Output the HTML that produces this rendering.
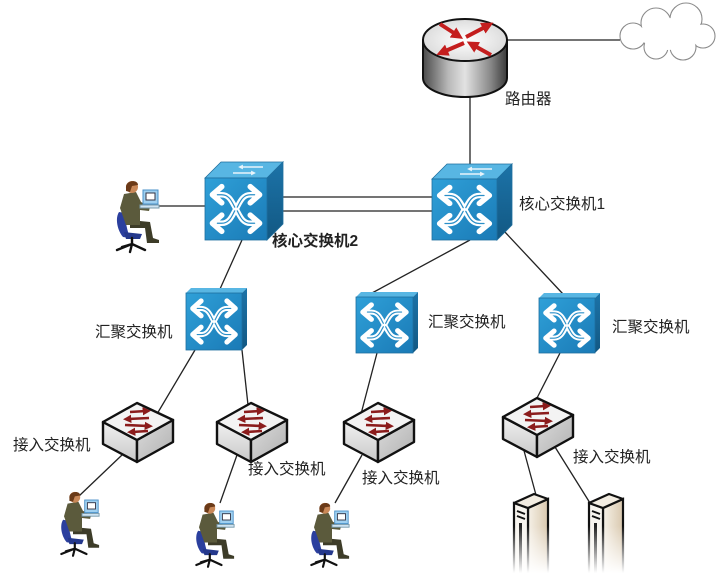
<!DOCTYPE html>
<html><head><meta charset="utf-8"><style>
html,body{margin:0;padding:0;background:#fff;}
svg{display:block;}
text{font-family:"Liberation Sans","Noto Sans CJK SC",sans-serif;font-size:15.5px;fill:#222;}
</style></head><body>
<svg width="720" height="573" viewBox="0 0 720 573" xmlns="http://www.w3.org/2000/svg">
<defs>
 <linearGradient id="fr" x1="0" y1="0" x2="1" y2="1">
  <stop offset="0" stop-color="#2fa0d8"/><stop offset="1" stop-color="#1a7ab6"/>
 </linearGradient>
 <linearGradient id="rs" x1="0" y1="0" x2="0" y2="1">
  <stop offset="0" stop-color="#1c73a8"/><stop offset="1" stop-color="#125883"/>
 </linearGradient>
 <linearGradient id="rb" x1="0" y1="0" x2="1" y2="0">
  <stop offset="0" stop-color="#4a4a4a"/><stop offset="0.3" stop-color="#b8b8b8"/>
  <stop offset="0.5" stop-color="#e2e2e2"/><stop offset="0.8" stop-color="#8a8a8a"/>
  <stop offset="1" stop-color="#3a3a3a"/>
 </linearGradient>
 <radialGradient id="rt" cx="0.5" cy="0.5" r="0.6">
  <stop offset="0" stop-color="#ffffff"/><stop offset="1" stop-color="#d6d6d6"/>
 </radialGradient>
 <linearGradient id="accL" x1="0" y1="0" x2="0" y2="1">
  <stop offset="0" stop-color="#f0f0f0"/><stop offset="1" stop-color="#c9c9c9"/>
 </linearGradient>
 <linearGradient id="accR" x1="0" y1="0" x2="1" y2="1">
  <stop offset="0" stop-color="#dcdcdc"/><stop offset="1" stop-color="#b0b0b0"/>
 </linearGradient>
 <linearGradient id="srvS" x1="0" y1="0" x2="1" y2="0">
  <stop offset="0" stop-color="#f6f1e8"/><stop offset="1" stop-color="#d9c8ae"/>
 </linearGradient>
 <linearGradient id="fade" x1="0" y1="0" x2="0" y2="1">
  <stop offset="0" stop-color="#fff" stop-opacity="0"/><stop offset="1" stop-color="#fff" stop-opacity="1"/>
 </linearGradient>
 <marker id="rh" viewBox="0 0 10 10" refX="4" refY="5" markerWidth="3" markerHeight="3" orient="auto">
  <path d="M0,0 L10,5 L0,10 z" fill="#c41e1e"/>
 </marker>
 <marker id="dh" viewBox="0 0 10 10" refX="4" refY="5" markerWidth="3.2" markerHeight="3.2" orient="auto">
  <path d="M0,0 L10,5 L0,10 z" fill="#8b1c1c"/>
 </marker>
 <marker id="wh" viewBox="0 0 10 10" refX="4" refY="5" markerWidth="3" markerHeight="3" orient="auto">
  <path d="M0,0 L10,5 L0,10 z" fill="#e8f4fb"/>
 </marker>
 <symbol id="xarr" viewBox="0 0 100 100" preserveAspectRatio="none">
  <g fill="none" stroke="#fff" stroke-width="9" stroke-linecap="round" stroke-linejoin="round">
   <path d="M14,27 H27 C40,27 44,40 50,50 C56,60 60,73 73,73 H86"/>
   <path d="M14,73 H27 C40,73 44,60 50,50 C56,40 60,27 73,27 H86"/>
   <path d="M27,14 L12,27 L27,40"/>
   <path d="M73,14 L88,27 L73,40"/>
   <path d="M27,60 L12,73 L27,86"/>
   <path d="M73,60 L88,73 L73,86"/>
  </g>
  <g fill="none" stroke="#2a8fc8" stroke-width="2" stroke-linecap="round">
   <path d="M20,27 H27 C40,27 44,40 48,47"/>
   <path d="M52,53 C56,60 60,73 73,73 H80"/>
   <path d="M20,73 H27 C40,73 44,60 48,53"/>
   <path d="M52,47 C56,40 60,27 73,27 H80"/>
  </g>
 </symbol>
 <g id="person">
  <path d="M9,32 C5,38 7,50 13,57 L20,58 C17,50 15,40 15,33 Z" fill="#2b3f9e"/>
  <path d="M14,52 L32,54 L30,59 L16,59 Z" fill="#24388c"/>
  <path d="M22,58 L22,64 M22,64 L7,70 M22,64 L35,70 M22,64 L20,72 M22,64 L12,67" stroke="#111" stroke-width="2.4" fill="none" stroke-linecap="round"/>
  <path d="M20,40 L40,42 L43,58 L49,60 L49,63 L37,63 L35,48 L20,48 Z" fill="#3d3c28"/>
  <path d="M14,14 L26,12 L31,22 L40,27 L39,31 L30,30 L30,45 L16,45 L10,28 Z" fill="#5b5a3c"/>
  <circle cx="22" cy="7" r="6" fill="#c98858"/>
  <path d="M16,8 C15,0 28,-1 28,5 L22,6 L20,12 L16,11Z" fill="#6b3a18"/>
  <rect x="33" y="10" width="15" height="14" fill="#9fd0f0" stroke="#4a90c8"/>
  <rect x="36" y="13" width="9" height="7" fill="#fff" stroke="#334"/>
  <rect x="30" y="25" width="19" height="3" fill="#cfe4f2" stroke="#79a"/>
 </g>
 <g id="acc">
  <polygon points="0,19 34,37 34,59 0,41" fill="url(#accL)" stroke="#111" stroke-width="2.4" stroke-linejoin="round"/>
  <polygon points="34,37 70,17 70,39 34,59" fill="url(#accR)" stroke="#111" stroke-width="2.4" stroke-linejoin="round"/>
  <polygon points="0,19 34,0 70,17 34,37" fill="#f3f3f3" stroke="#111" stroke-width="2.4" stroke-linejoin="round"/>
  <g stroke="#8b1c1c" stroke-width="2.6" fill="none">
   <path d="M27,9 L43,8" marker-end="url(#dh)"/>
   <path d="M46,15 L25,16" marker-end="url(#dh)"/>
   <path d="M22,22 L45,23" marker-end="url(#dh)"/>
   <path d="M45,28 L29,29" marker-end="url(#dh)"/>
  </g>
 </g>
 <g id="server">
  <polygon points="14,14 34,5 34,85 14,85" fill="url(#srvS)" stroke="#111" stroke-width="2.2"/>
  <polygon points="0,9 14,14 14,85 0,85" fill="#f7f4ee" stroke="#111" stroke-width="2.2"/>
  <polygon points="0,9 20,0 34,5 14,14" fill="#f3ede2" stroke="#111" stroke-width="2.2" stroke-linejoin="round"/>
  <path d="M3,17 L11,20 M3,22 L11,25" stroke="#111" stroke-width="2"/>
  <rect x="5" y="29" width="3" height="50" fill="#222"/>
 </g>
</defs>

<!-- connectors -->
<g stroke="#222" stroke-width="1.3" fill="none">
 <line x1="507" y1="40" x2="620" y2="40"/>
 <line x1="470" y1="96" x2="470" y2="165"/>
 <line x1="282" y1="197" x2="433" y2="197"/>
 <line x1="282" y1="211" x2="433" y2="211"/>
 <line x1="158" y1="206" x2="205" y2="206"/>
 <line x1="242" y1="240" x2="220" y2="289"/>
 <line x1="470" y1="240" x2="372" y2="293"/>
 <line x1="504" y1="231" x2="563" y2="294"/>
 <line x1="195" y1="350" x2="157" y2="414"/>
 <line x1="242" y1="350" x2="248" y2="405"/>
 <line x1="122" y1="455" x2="79" y2="496"/>
 <line x1="237" y1="455" x2="220" y2="503"/>
 <line x1="377" y1="353" x2="361" y2="414"/>
 <line x1="362" y1="455" x2="335" y2="503"/>
 <line x1="560" y1="353" x2="537" y2="398"/>
 <line x1="523" y1="447" x2="536" y2="495"/>
 <line x1="555" y1="447" x2="590" y2="503"/>
</g>

<!-- cloud -->
<g stroke="#8a8a8a" stroke-width="1.1" fill="#fff">
 <circle cx="633" cy="36" r="13"/><circle cx="656" cy="23" r="15"/><circle cx="686" cy="19" r="16"/>
 <circle cx="703" cy="36" r="12"/><circle cx="683" cy="47" r="13"/><circle cx="656" cy="47" r="12"/>
</g>
<g fill="#fff">
 <circle cx="633" cy="36" r="12.2"/><circle cx="656" cy="23" r="14.2"/><circle cx="686" cy="19" r="15.2"/>
 <circle cx="703" cy="36" r="11.2"/><circle cx="683" cy="47" r="12.2"/><circle cx="656" cy="47" r="11.2"/>
 <ellipse cx="668" cy="34" rx="28" ry="16"/>
</g>

<!-- router -->
<g stroke="#111" stroke-width="2">
 <path d="M423,40 L423,78 A42,19 0 0 0 507,78 L507,40 Z" fill="url(#rb)"/>
 <ellipse cx="465" cy="40" rx="42" ry="21" fill="url(#rt)"/>
</g>
<g stroke="#c41e1e" stroke-width="4" fill="none">
 <path d="M466,37 L487,26" marker-end="url(#rh)"/>
 <path d="M464,43 L443,52" marker-end="url(#rh)"/>
 <path d="M440,24 L457,35" marker-end="url(#rh)"/>
 <path d="M491,55 L473,45" marker-end="url(#rh)"/>
</g>
<text x="505" y="104">路由器</text>

<!-- core switch 2 -->
<g transform="translate(205,178)">
 <polygon points="0,0 16,-16 78,-16 62,0" fill="#58b6e3" stroke="#1f6f9f" stroke-width="0.8"/>
 <polygon points="62,0 78,-16 78,46 62,62" fill="url(#rs)" stroke="#1f6f9f" stroke-width="0.8"/>
 <rect width="62" height="62" fill="url(#fr)" stroke="#1f6f9f" stroke-width="0.8"/>
 <use href="#xarr" x="0" y="0" width="62" height="62"/>
 <g stroke="#e8f4fb" stroke-width="1.6" fill="none">
  <path d="M28,-5 L48,-5" marker-end="url(#wh)"/>
  <path d="M58,-11 L36,-11" marker-end="url(#wh)"/>
 </g>
</g>
<text x="272" y="246" style="font-weight:bold">核心交换机2</text>

<!-- core switch 1 -->
<g transform="translate(432,179)">
 <polygon points="0,0 15,-15 80,-15 65,0" fill="#58b6e3" stroke="#1f6f9f" stroke-width="0.8"/>
 <polygon points="65,0 80,-15 80,46 65,61" fill="url(#rs)" stroke="#1f6f9f" stroke-width="0.8"/>
 <rect width="65" height="61" fill="url(#fr)" stroke="#1f6f9f" stroke-width="0.8"/>
 <use href="#xarr" x="0" y="0" width="65" height="61"/>
 <g stroke="#e8f4fb" stroke-width="1.6" fill="none">
  <path d="M28,-5 L50,-5" marker-end="url(#wh)"/>
  <path d="M60,-10 L38,-10" marker-end="url(#wh)"/>
 </g>
</g>
<text x="519" y="209">核心交换机1</text>

<!-- aggregation switches -->
<g transform="translate(186,293)">
 <polygon points="0,0 5,-5 61,-5 56,0" fill="#58b6e3"/>
 <polygon points="56,0 61,-5 61,52 56,57" fill="url(#rs)"/>
 <rect width="56" height="57" fill="url(#fr)" stroke="#1f6f9f" stroke-width="0.8"/>
 <use href="#xarr" x="0" y="0" width="56" height="57"/>
</g>
<text x="95" y="337">汇聚交换机</text>

<g transform="translate(356,297)">
 <polygon points="0,0 5,-5 62,-5 57,0" fill="#58b6e3"/>
 <polygon points="57,0 62,-5 62,51 57,56" fill="url(#rs)"/>
 <rect width="57" height="56" fill="url(#fr)" stroke="#1f6f9f" stroke-width="0.8"/>
 <use href="#xarr" x="0" y="0" width="57" height="56"/>
</g>
<text x="428" y="327">汇聚交换机</text>

<g transform="translate(539,298)">
 <polygon points="0,0 5,-5 61,-5 56,0" fill="#58b6e3"/>
 <polygon points="56,0 61,-5 61,50 56,55" fill="url(#rs)"/>
 <rect width="56" height="55" fill="url(#fr)" stroke="#1f6f9f" stroke-width="0.8"/>
 <use href="#xarr" x="0" y="0" width="56" height="55"/>
</g>
<text x="612" y="332">汇聚交换机</text>

<!-- access switches -->
<use href="#acc" transform="translate(103,403)"/>
<use href="#acc" transform="translate(217,403)"/>
<use href="#acc" transform="translate(344,403)"/>
<use href="#acc" transform="translate(503,398)"/>
<text x="13" y="450">接入交换机</text>
<text x="248" y="474">接入交换机</text>
<text x="362" y="483">接入交换机</text>
<text x="573" y="462">接入交换机</text>

<!-- persons -->
<use href="#person" transform="translate(110,180)"/>
<use href="#person" transform="translate(55,491) scale(0.9)"/>
<use href="#person" transform="translate(190,502) scale(0.9)"/>
<use href="#person" transform="translate(305,502) scale(0.9)"/>

<!-- servers -->
<use href="#server" transform="translate(514,494)"/>
<use href="#server" transform="translate(589,494)"/>
<rect x="505" y="526" width="130" height="47" fill="url(#fade)"/>
</svg>
</body></html>
